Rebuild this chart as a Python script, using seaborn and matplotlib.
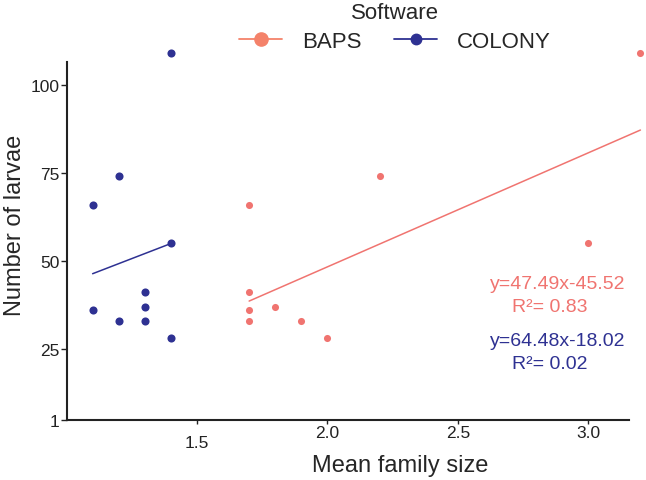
import pandas as pd
import numpy as np
import matplotlib
matplotlib.use("Agg")
import matplotlib.pyplot as plt
import matplotlib.transforms as mtransforms
from matplotlib.lines import Line2D
import seaborn as sns

# Data
baps_x = [1.7, 1.7, 1.7, 1.7, 1.8, 1.9, 2.0, 2.2, 3.0, 3.2]
baps_y = [66, 41, 36, 33, 37, 33, 28, 74, 55, 109]
colony_x = [1.1, 1.1, 1.2, 1.2, 1.3, 1.3, 1.3, 1.4, 1.4, 1.4]
colony_y = [66, 36, 74, 33, 41, 37, 33, 55, 28, 109]

software = ["BAPS", "COLONY"]
equations = ["y=47.49x-45.52", "y=64.48x-18.02"]
r2_labels = ["R\u00b2= 0.83", "R\u00b2= 0.02"]

x_ticks = [1.5, 2.0, 2.5, 3.0]
y_ticks = [25, 50, 75, 100]

colors = {"BAPS": "#F07470", "COLONY": "#2E3192"}

df = pd.DataFrame({
    "Mean family size": baps_x + colony_x,
    "Number of larvae": baps_y + colony_y,
    "Software": ["BAPS"] * len(baps_x) + ["COLONY"] * len(colony_x),
})

sns.set_style("ticks")
plt.rcParams["font.family"] = ["Liberation Sans", "DejaVu Sans"]

fig = plt.figure(figsize=(6.46, 4.81), dpi=100)
ax = fig.add_axes([0.103, 0.125, 0.871, 0.744])

# scatter + fitted line for each program
for name, size in zip(software, [26, 34]):
    sub = df[df["Software"] == name]
    sns.regplot(data=sub, x="Mean family size", y="Number of larvae", ax=ax,
                ci=None, color=colors[name],
                scatter_kws={"s": size, "clip_on": False, "linewidths": 0, "alpha": 1},
                line_kws={"lw": 1.1, "clip_on": False})

ax.set_xlim(1.0, 3.157)
ax.set_ylim(4.8, 106.5)
ax.set_xticks(x_ticks)
ax.set_xticklabels([f"{t:.1f}" for t in x_ticks])
ax.set_yticks([4.8] + y_ticks)
ax.set_yticklabels(["1"] + [str(t) for t in y_ticks])

sns.despine(ax=ax)
for side in ["left", "bottom"]:
    ax.spines[side].set_linewidth(1.5)
    ax.spines[side].set_color("#222222")
ax.tick_params(axis="y", length=4, width=1, pad=1, labelsize=12.5, colors="#222222")
ax.tick_params(axis="x", length=3, width=1, pad=1, labelsize=12.5, colors="#222222")

# the 1.5 label sits a little lower in the original
lab = ax.get_xticklabels()[0]
lab.set_transform(lab.get_transform() + mtransforms.ScaledTranslation(0, -7 / 72, fig.dpi_scale_trans))

ax.set_xlabel("Mean family size", fontsize=17)
ax.set_ylabel("Number of larvae", fontsize=17)
ax.xaxis.set_label_coords(0.593, -0.095)
ax.yaxis.set_label_coords(-0.072, 0.547)

# equations
for i, name in enumerate(software):
    y0 = [0.380, 0.221][i]
    ax.text(0.753, y0, equations[i], transform=ax.transAxes, color=colors[name],
            fontsize=14, ha="left", va="center")
    ax.text(0.792, y0 - 0.064, r2_labels[i], transform=ax.transAxes, color=colors[name],
            fontsize=14, ha="left", va="center")

handles = [
    Line2D([], [], color="#F4826A", marker="o", markersize=9.5, lw=1.3),
    Line2D([], [], color=colors["COLONY"], marker="o", markersize=7.5, lw=1.3),
]
fig.legend(handles, software, title="Software", loc="center", ncol=2,
           bbox_to_anchor=(395 / 646, 1 - 28 / 481), frameon=False,
           fontsize=16, title_fontsize=16, handlelength=1.95,
           handletextpad=0.9, columnspacing=1.45, labelspacing=0.35)

fig.savefig("out.png", dpi=100)
